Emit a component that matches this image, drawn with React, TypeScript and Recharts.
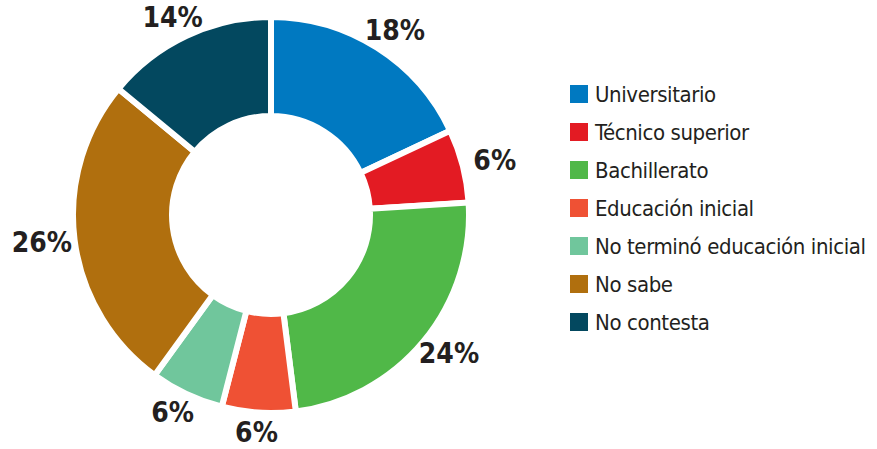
import React from 'react';
import { PieChart, Pie, Cell, Legend } from 'recharts';

const categories = [
  'Universitario',
  'Técnico superior',
  'Bachillerato',
  'Educación inicial',
  'No terminó educación inicial',
  'No sabe',
  'No contesta',
];
const shares = [18, 6, 24, 6, 6, 26, 14];
const colors = ['#0079c1', '#e31b23', '#50b848', '#ef5134', '#70c69c', '#b06f0e', '#03485f'];

const data = categories.map((name, i) => ({ name, value: shares[i], fill: colors[i] }));

const FONT = "'DejaVu Sans Condensed', 'Liberation Sans Narrow', 'DejaVu Sans', sans-serif";
const RADIAN = Math.PI / 180;

// labels sit on a slightly flattened ring round the donut
const renderLabel = (props: any) => {
  const { cx, cy, midAngle, outerRadius, value } = props;
  const x = cx + (outerRadius + 33) * Math.cos(-midAngle * RADIAN);
  const y = cy + (outerRadius + 20) * Math.sin(-midAngle * RADIAN);
  return (
    <text
      x={x}
      y={y}
      textAnchor="middle"
      dominantBaseline="central"
      fill="#231f20"
      fontFamily={FONT}
      fontWeight="bold"
      fontSize={28}
      style={{ fontStretch: 'condensed' }}
    >
      {`${value}%`}
    </text>
  );
};

const renderLegend = (props: any) => {
  const { payload = [] } = props;
  return (
    <div
      style={{
        fontFamily: FONT,
        fontStretch: 'condensed',
        fontSize: 22,
        letterSpacing: -0.4,
        color: '#231f20',
      }}
    >
      {payload.map((p: any, i: number) => (
        <div key={i} style={{ display: 'flex', alignItems: 'center', height: 38 }}>
          <span
            style={{
              display: 'inline-block',
              flex: 'none',
              width: 18,
              height: 18,
              background: colors[categories.indexOf(p.value)],
              marginRight: 7,
            }}
          />
          <span style={{ whiteSpace: 'nowrap' }}>{p.value}</span>
        </div>
      ))}
    </div>
  );
};

export default function App() {
  return (
    <div style={{ width: 877, height: 449, background: '#fff' }}>
      <style>{'body{margin:0}'}</style>
      <PieChart width={877} height={449} margin={{ top: 0, right: 0, bottom: 0, left: 0 }}>
        <Pie
          data={data}
          dataKey="value"
          nameKey="name"
          cx={271}
          cy={215}
          innerRadius={99}
          outerRadius={198}
          startAngle={90}
          endAngle={-270}
          stroke="#ffffff"
          strokeWidth={6}
          label={renderLabel}
          labelLine={false}
          isAnimationActive={false}
        >
          {data.map((d, i) => (
            <Cell key={i} fill={colors[i]} />
          ))}
        </Pie>
        <Legend
          layout="vertical"
          content={renderLegend}
          itemSorter={(item: any) => categories.indexOf(item.value)}
          wrapperStyle={{ left: 570, top: 75, width: 307, bottom: 'auto' }}
        />
      </PieChart>
    </div>
  );
}
